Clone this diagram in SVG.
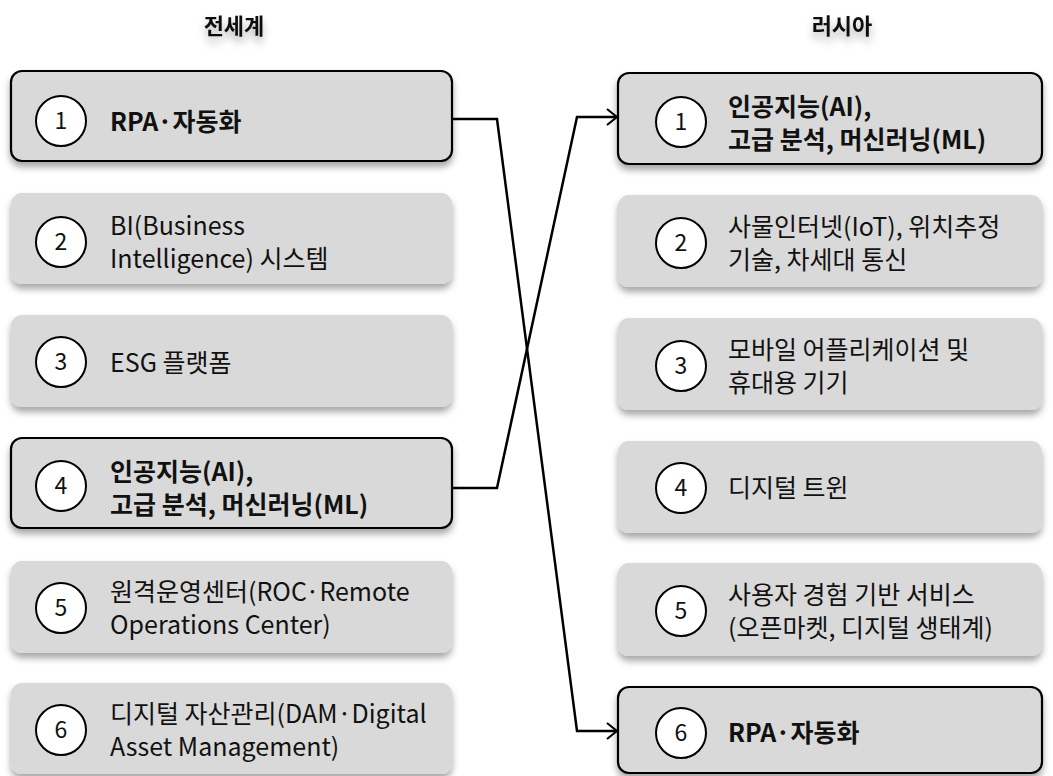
<svg xmlns="http://www.w3.org/2000/svg" width="1053" height="776" viewBox="0 0 1053 776">
<defs>
<filter id="sh" x="-10%" y="-20%" width="120%" height="150%">
<feDropShadow dx="0" dy="5" stdDeviation="3.5" flood-color="#000" flood-opacity="0.35"/>
</filter>
<filter id="tsh" x="-30%" y="-50%" width="160%" height="250%">
<feDropShadow dx="0" dy="6" stdDeviation="4" flood-color="#000" flood-opacity="0.3"/>
</filter>
<marker id="arr" markerUnits="userSpaceOnUse" viewBox="0 0 12 18" refX="11" refY="9" markerWidth="12" markerHeight="18" orient="auto">
<path d="M1,1 L11,9 L1,17" fill="none" stroke="#000" stroke-width="2.2"/>
</marker>
</defs>
<style>
.box{fill:#d9d9d9;filter:url(#sh)}
.hl{stroke:#000;stroke-width:2.2}
.c{fill:#fff;stroke:#000;stroke-width:2}
.n{font-family:"Noto Sans CJK KR","Noto Sans",sans-serif;font-size:23px;fill:#111;text-anchor:middle}
.t{font-family:"Noto Sans CJK KR","Noto Sans CJK SC",sans-serif;font-size:25px;fill:#111}
.b{font-weight:bold}
.h{font-family:"Noto Sans CJK KR",sans-serif;font-size:22px;font-weight:bold;fill:#111;text-anchor:middle;filter:url(#tsh)}
.ln{fill:none;stroke:#000;stroke-width:2.5;stroke-linejoin:miter}
</style>
<rect width="1053" height="776" fill="#fff"/>
<text class="h" x="234" y="34">전세계</text>
<text class="h" x="842" y="34">러시아</text>

<g id="L1"><rect class="box hl" x="11" y="71" width="441" height="90" rx="11"/><circle class="c" cx="61" cy="121" r="25"/><text class="n" x="61" y="129">1</text><text class="t b" x="110" y="131">RPA·자동화</text></g>
<g id="L2"><rect class="box" x="11" y="193" width="441" height="91" rx="11"/><circle class="c" cx="61" cy="242" r="25"/><text class="n" x="61" y="250">2</text><text class="t" x="110" y="235">BI(Business</text><text class="t" x="110" y="268">Intelligence) 시스템</text></g>
<g id="L3"><rect class="box" x="11" y="315" width="441" height="92" rx="11"/><circle class="c" cx="61" cy="362" r="25"/><text class="n" x="61" y="370">3</text><text class="t" x="110" y="372">ESG 플랫폼</text></g>
<g id="L4"><rect class="box hl" x="11" y="438" width="441" height="90" rx="11"/><circle class="c" cx="61" cy="486" r="25"/><text class="n" x="61" y="494">4</text><text class="t b" x="110" y="481">인공지능(AI),</text><text class="t b" x="110" y="514">고급 분석, 머신러닝(ML)</text></g>
<g id="L5"><rect class="box" x="11" y="561" width="441" height="92" rx="11"/><circle class="c" cx="61" cy="608" r="25"/><text class="n" x="61" y="616">5</text><text class="t" x="110" y="601">원격운영센터(ROC·Remote</text><text class="t" x="110" y="634">Operations Center)</text></g>
<g id="L6"><rect class="box" x="11" y="683" width="441" height="91" rx="11"/><circle class="c" cx="61" cy="730" r="25"/><text class="n" x="61" y="738">6</text><text class="t" x="110" y="723">디지털 자산관리(DAM·Digital</text><text class="t" x="110" y="756">Asset Management)</text></g>

<g id="R1"><rect class="box hl" x="618" y="73" width="424" height="91" rx="11"/><circle class="c" cx="681" cy="122" r="25"/><text class="n" x="681" y="130">1</text><text class="t b" x="728" y="116">인공지능(AI),</text><text class="t b" x="728" y="149">고급 분석, 머신러닝(ML)</text></g>
<g id="R2"><rect class="box" x="618" y="195" width="424" height="92" rx="11"/><circle class="c" cx="681" cy="243" r="25"/><text class="n" x="681" y="251">2</text><text class="t" x="728" y="236">사물인터넷(IoT), 위치추정</text><text class="t" x="728" y="269">기술, 차세대 통신</text></g>
<g id="R3"><rect class="box" x="618" y="318" width="424" height="92" rx="11"/><circle class="c" cx="681" cy="366" r="25"/><text class="n" x="681" y="374">3</text><text class="t" x="728" y="359">모바일 어플리케이션 및</text><text class="t" x="728" y="392">휴대용 기기</text></g>
<g id="R4"><rect class="box" x="618" y="441" width="424" height="92" rx="11"/><circle class="c" cx="681" cy="488" r="25"/><text class="n" x="681" y="496">4</text><text class="t" x="728" y="497">디지털 트윈</text></g>
<g id="R5"><rect class="box" x="618" y="563" width="424" height="93" rx="11"/><circle class="c" cx="681" cy="611" r="25"/><text class="n" x="681" y="619">5</text><text class="t" x="728" y="604">사용자 경험 기반 서비스</text><text class="t" x="728" y="637">(오픈마켓, 디지털 생태계)</text></g>
<g id="R6"><rect class="box hl" x="618" y="687" width="424" height="86" rx="11"/><circle class="c" cx="681" cy="733" r="25"/><text class="n" x="681" y="741">6</text><text class="t b" x="728" y="742">RPA·자동화</text></g>

<g id="connectors">
<path class="ln" d="M452,119 H497 L577,731 H617" marker-end="url(#arr)"/>
<path class="ln" d="M452,488 H497 L577,117 H617" marker-end="url(#arr)"/>
</g>
</svg>
